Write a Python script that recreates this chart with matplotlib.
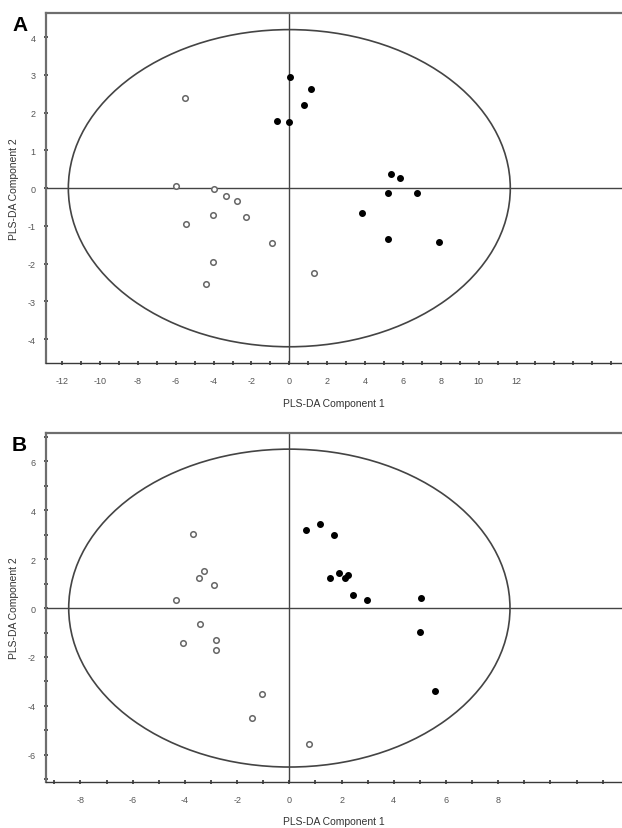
# PLS-DA score plots, two panels (A and B)
import matplotlib.pyplot as plt
from matplotlib.patches import Ellipse
from matplotlib.ticker import MultipleLocator

plt.rcParams['font.family'] = ['Liberation Sans', 'DejaVu Sans']

# Panel A scores
a_filled_x = [0.05, 1.15, 0.8, -0.67, 0.0, 5.37, 5.83, 5.23, 6.76, 3.84, 5.23, 7.89]
a_filled_y = [2.95, 2.63, 2.2, 1.77, 1.74, 0.38, 0.27, -0.13, -0.14, -0.66, -1.35, -1.42]
a_open_x = [-5.49, -5.98, -3.96, -3.36, -2.78, -4.05, -2.29, -5.47, -0.93, -4.02, -4.40, 1.32]
a_open_y = [2.40, 0.06, -0.01, -0.2, -0.34, -0.72, -0.75, -0.95, -1.45, -1.95, -2.54, -2.25]
a_ellipse = (11.67, 4.2)  # semi-axes

# Panel B scores
b_filled_x = [0.63, 1.18, 1.72, 1.55, 1.92, 2.15, 2.26, 2.44, 2.97, 5.05, 5.0, 5.58]
b_filled_y = [3.18, 3.45, 2.99, 1.23, 1.42, 1.25, 1.34, 0.53, 0.33, 0.40, -0.98, -3.39]
b_open_x = [-3.68, -3.27, -3.47, -2.88, -4.34, -3.43, -4.07, -2.80, -2.80, -1.06, -1.42, 0.75]
b_open_y = [3.01, 1.51, 1.23, 0.94, 0.33, -0.64, -1.44, -1.32, -1.73, -3.5, -4.49, -5.55]
b_ellipse = (8.45, 6.5)

W, H = 622, 829
fig = plt.figure(figsize=(W / 100, H / 100), dpi=100)


def panel(rect, letter, fx, fy, ox, oy, ell, xlim, ylim, xmaj, ymaj, xmin, ymin):
    ax = fig.add_axes(rect)
    ax.set_xlim(*xlim)
    ax.set_ylim(*ylim)
    for s in ['top', 'left']:
        ax.spines[s].set_color('#6e6e6e')
        ax.spines[s].set_linewidth(1.6)
    ax.spines['bottom'].set_color('#3a3a3a')
    ax.spines['bottom'].set_linewidth(1.0)
    ax.spines['right'].set_visible(False)

    ax.axhline(0, color='#444444', lw=1.0, zorder=1)
    ax.axvline(0, color='#444444', lw=1.0, zorder=1)
    ax.add_patch(Ellipse((0, 0), 2 * ell[0], 2 * ell[1], fill=False,
                         edgecolor='#444444', lw=1.2, zorder=2))

    ax.plot(fx, fy, 'o', ms=4, color='black', ls='none', zorder=3)
    ax.plot(ox, oy, 'o', ms=4, mfc='white', mec='#666666', mew=1.1,
            ls='none', zorder=3)

    ax.xaxis.set_major_locator(MultipleLocator(xmaj))
    ax.yaxis.set_major_locator(MultipleLocator(ymaj))
    if xmin:
        ax.xaxis.set_minor_locator(MultipleLocator(xmin))
    if ymin:
        ax.yaxis.set_minor_locator(MultipleLocator(ymin))
    ax.tick_params(which='both', direction='inout', length=3, width=1.2,
                   color='#333333', labelsize=6.5, labelcolor='#555555', pad=8)
    ax.tick_params(which='minor', length=3)
    ax.tick_params(axis='y', pad=6)
    ax.xaxis.set_major_formatter(plt.FuncFormatter(lambda v, p: f'{v:g}'))
    ax.yaxis.set_major_formatter(plt.FuncFormatter(lambda v, p: f'{v:g}'))
    # keep labels inside the visible part of the axis
    ax.set_xticks([t for t in ax.get_xticks() if xlim[0] < t <= -xlim[0] + 0.5])

    ax.set_xlabel('PLS-DA Component 1', fontsize=7.5, color='#333333', labelpad=9)
    ax.set_ylabel('PLS-DA Component 2', fontsize=7.5, color='#333333', labelpad=6)
    fig.text(12 / W, rect[1] + rect[3] - 2 / H, letter, fontsize=15,
             fontweight='bold', va='top', ha='left')
    return ax


panel([46 / W, 465 / H, 1 - 46 / W, 350 / H], 'A',
      a_filled_x, a_filled_y, a_open_x, a_open_y, a_ellipse,
      (-12.85, 17.57), (-4.63, 4.64), 2, 1, 1, None)
ax_b = panel([46 / W, 46.3 / H, 1 - 46 / W, 348.7 / H], 'B',
             b_filled_x, b_filled_y, b_open_x, b_open_y, b_ellipse,
             (-9.32, 12.74), (-7.1, 7.16), 2, 2, 1, 1)

fig.savefig('out.png', dpi=100)
